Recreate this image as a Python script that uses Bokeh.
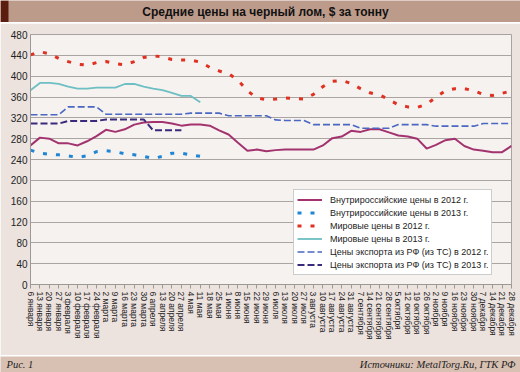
from bokeh.plotting import figure
from bokeh.models import (Range1d, FixedTicker, Legend, LegendItem, Label,
                          BoxAnnotation)
from bokeh.layouts import column, row
from bokeh.embed import file_html
from bokeh.resources import INLINE

# ---------------- data ----------------
dates = ["6 января", "13 января", "20 января", "27 января",
         "3 февраля", "10 февраля", "17 февраля", "24 февраля",
         "2 марта", "9 марта", "16 марта", "23 марта", "30 марта",
         "6 апреля", "13 апреля", "20 апреля", "27 апреля",
         "4 мая", "11 мая", "18 мая", "25 мая",
         "1 июня", "8 июня", "15 июня", "22 июня", "29 июня",
         "6 июля", "13 июля", "20 июля", "27 июля",
         "3 августа", "10 августа", "17 августа", "24 августа", "31 августа",
         "7 сентября", "14 сентября", "21 сентября", "28 сентября",
         "5 октября", "12 октября", "19 октября", "26 октября",
         "2 ноября", "9 ноября", "16 ноября", "23 ноября", "30 ноября",
         "7 декабря", "14 декабря", "21 декабря", "28 декабря"]

domestic_2012 = [267, 282, 280, 271, 271, 267, 275, 285, 297, 293, 298, 307, 311,
                 312, 312, 309, 305, 307, 307, 305, 296, 288, 272, 257, 259, 256,
                 258, 259, 259, 259, 259, 267, 281, 284, 295, 293, 298, 298, 292,
                 286, 284, 280, 261, 268, 277, 280, 266, 259, 257, 254, 254, 266]
domestic_2013 = [258, 252, 250, 249, 247, 244, 247, 255, 257, 255, 251, 249, 246,
                 242, 246, 252, 252, 249, 246]
world_2012 = [441, 447, 443, 434, 428, 423, 421, 426, 428, 424, 422, 428, 436,
              439, 437, 432, 431, 431, 427, 417, 410, 405, 392, 372, 358, 355,
              356, 358, 357, 356, 365, 380, 390, 392, 386, 376, 368, 364, 355,
              345, 341, 340, 346, 360, 372, 376, 376, 372, 365, 363, 367, 372]
world_2013 = [373, 387, 387, 385, 380, 376, 376, 378, 378, 378, 385, 385, 380,
              376, 373, 368, 362, 362, 350]
export_2012 = [326, 326, 326, 326, 341, 341, 341, 341, 327, 327, 327, 327, 327,
               327, 327, 327, 327, 329, 329, 329, 329, 324, 324, 324, 324, 324,
               316, 315, 315, 315, 307, 307, 307, 307, 307, 300, 300, 300, 300,
               307, 307, 307, 307, 304, 304, 304, 304, 304, 309, 309, 309, 309]
export_2013 = [309, 309, 309, 309, 314, 314, 314, 314, 317, 317, 317, 317, 317,
               296, 296, 296, 296]

y_ticks = list(range(0, 481, 40))

series_names = ["Внутрироссийские цены в 2012 г.",
                "Внутрироссийские цены в 2013 г.",
                "Мировые цены в 2012 г.",
                "Мировые цены в 2013 г.",
                "Цены экспорта из РФ (из ТС) в 2012 г.",
                "Цены экспорта из РФ (из ТС) в 2013 г."]

title_text = "Средние цены на черный лом, $ за тонну"
fig_text = "Рис. 1"
source_text = "Источники: MetalTorg.Ru, ГТК РФ"

W = 520
FONT = "Liberation Sans"


def bar_figure(h, color):
    b = figure(width=W, height=h, x_range=Range1d(0, W), y_range=Range1d(0, h),
               x_axis_location=None, y_axis_location=None,
               min_border=0, min_border_left=0, min_border_right=0,
               min_border_top=0, min_border_bottom=0,
               toolbar_location=None, output_backend="svg",
               background_fill_color=color, border_fill_color=color,
               outline_line_color=None)
    b.grid.visible = False
    return b


# ---------------- title bar ----------------
TH = 22
t = bar_figure(TH, "#bd9b8b")
t.add_layout(BoxAnnotation(left=0, right=8, bottom=0, top=TH,
                           fill_color="#5a1d0f", fill_alpha=1, line_color=None))
t.add_layout(Label(x=265, y=TH / 2, text=title_text, text_align="center",
                   text_baseline="middle", text_font=FONT,
                   text_font_size="12px", text_font_style="bold",
                   text_color="#111111"))

# ---------------- main chart ----------------
x_all = list(range(len(dates)))
p = figure(width=W, height=332, x_range=Range1d(0, len(dates) - 1),
           y_range=Range1d(0, 480), toolbar_location=None, output_backend="svg",
           min_border_left=30, min_border_right=9, min_border_top=11,
           min_border_bottom=71,
           background_fill_color="#f6f2ef", border_fill_color="#ece3df",
           outline_line_color="#a9a39f")

r_dom12 = p.line(x_all, domestic_2012, line_color="#a3336f", line_width=2)
r_dom13 = p.line(x_all[:len(domestic_2013)], domestic_2013, line_color="#1f86d6",
                 line_width=3, line_dash="4 9")
r_w12 = p.line(x_all, world_2012, line_color="#df3022", line_width=3,
               line_dash="4 9")
r_w13 = p.line(x_all[:len(world_2013)], world_2013, line_color="#6dbfc3",
               line_width=1.8)
r_e12 = p.line(x_all, export_2012, line_color="#4a67c2", line_width=1.6,
               line_dash="7 3")
r_e13 = p.line(x_all[:len(export_2013)], export_2013, line_color="#3a2a7c",
               line_width=2, line_dash="7 3")

p.xgrid.visible = False
p.ygrid.grid_line_color = "#aaa5a1"
p.ygrid.grid_line_width = 1

p.xaxis.ticker = FixedTicker(ticks=x_all)
p.xaxis.major_label_overrides = {i: d for i, d in enumerate(dates)}
p.xaxis.major_label_orientation = "vertical"
p.xaxis.major_label_text_font = FONT
p.xaxis.major_label_text_font_size = "8.5px"
p.xaxis.major_label_text_color = "#222222"
p.xaxis.major_tick_out = 4
p.xaxis.major_tick_in = 0
p.xaxis.minor_tick_line_color = None
p.xaxis.axis_line_color = "#9d9894"
p.xaxis.major_tick_line_color = "#9d9894"
p.xaxis.major_label_standoff = 3

p.yaxis.ticker = FixedTicker(ticks=y_ticks)
p.yaxis.major_label_text_font = FONT
p.yaxis.major_label_text_font_size = "10px"
p.yaxis.major_label_text_color = "#222222"
p.yaxis.major_tick_out = 0
p.yaxis.major_tick_in = 0
p.yaxis.minor_tick_line_color = None
p.yaxis.axis_line_color = "#9d9894"
p.yaxis.major_label_standoff = 3

renderers = [r_dom12, r_dom13, r_w12, r_w13, r_e12, r_e13]
legend = Legend(items=[LegendItem(label=n, renderers=[r])
                       for n, r in zip(series_names, renderers)],
                location=(263, 9))
legend.label_text_font = FONT
legend.label_text_font_size = "9px"
legend.label_text_color = "#222222"
legend.glyph_width = 25
legend.glyph_height = 13
legend.label_height = 13
legend.label_standoff = 8
legend.spacing = 0
legend.padding = 3
legend.margin = 0
legend.border_line_color = "#9a9a9a"
legend.border_line_width = 1
legend.background_fill_color = "white"
legend.background_fill_alpha = 1
p.add_layout(legend, "center")

# ---------------- footer ----------------
FH = 16
f = bar_figure(FH, "#d8c0b3")
f.add_layout(Label(x=6, y=FH / 2, text=fig_text, text_align="left",
                   text_baseline="middle", text_font="Liberation Serif",
                   text_font_size="10.5px", text_font_style="italic",
                   text_color="#222222"))
f.add_layout(Label(x=515, y=FH / 2, text=source_text, text_align="right",
                   text_baseline="middle", text_font="Liberation Serif",
                   text_font_size="10.5px", text_font_style="italic",
                   text_color="#222222"))

layout = column(row(t), p, row(f), spacing=1)
open("out.html", "w").write(file_html(layout, INLINE))
